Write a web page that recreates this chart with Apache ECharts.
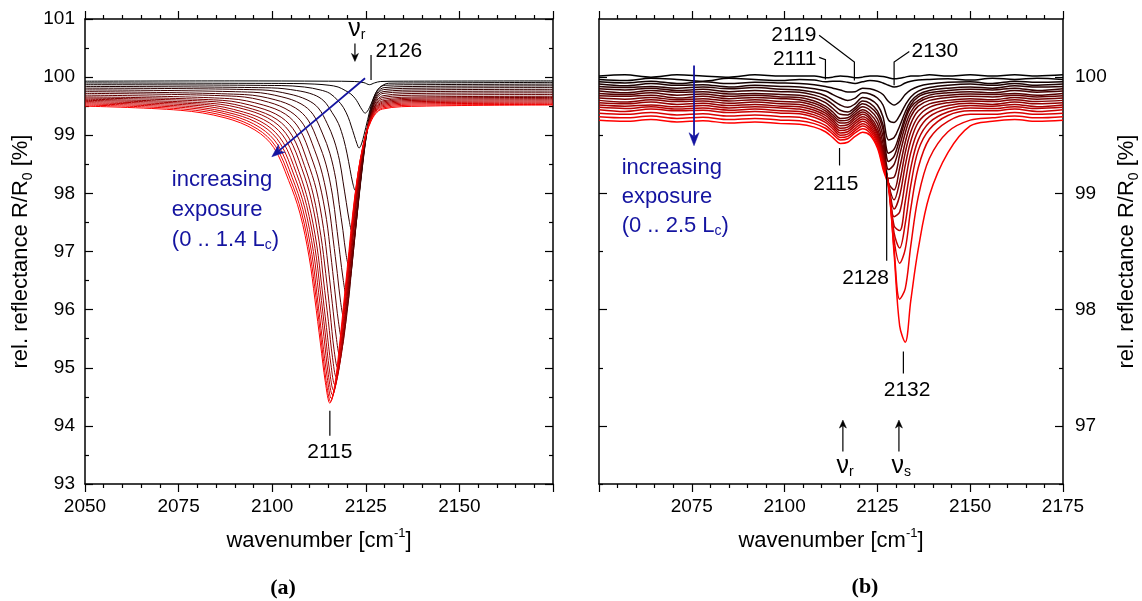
<!DOCTYPE html>
<html><head><meta charset="utf-8">
<script src="https://cdn.jsdelivr.net/npm/echarts@6/dist/echarts.min.js"></script>
<style>html,body{margin:0;padding:0;background:#fff}#c{width:1142px;height:601px}</style>
</head><body><div id="c"></div>
<script>
// ---------- data ----------
const xTicksA = [2050, 2075, 2100, 2125, 2150];
const xTicksB = [2075, 2100, 2125, 2150, 2175];
const yTicksA = [93, 94, 95, 96, 97, 98, 99, 100, 101];
const yTicksB = [97, 98, 99, 100];
const yMinorB = [96.5, 97.5, 98.5, 99.5];

// panel (a): spectra as [wavenumber, R/R0] pairs, from 0 to 1.4 Lc
const spectraA = [
 [[2050,99.93],[2090,99.935],[2115,99.93],[2122,99.925],[2124.5,99.905],[2126,99.87],[2127.3,99.9],[2129,99.925],[2135,99.93],[2175,99.935]],
 [[2050,99.90],[2105.6,99.89],[2111.4,99.88],[2115.2,99.86],[2117.6,99.83],[2119.5,99.77],[2121.0,99.71],[2122.2,99.63],[2122.9,99.56],[2123.6,99.48],[2124.2,99.42],[2124.8,99.38],[2125.4,99.41],[2126.0,99.48],[2126.9,99.61],[2127.8,99.74],[2128.7,99.82],[2129.8,99.87],[2131.1,99.895],[2140,99.90],[2175,99.91]],
 [[2050,99.87],[2102.4,99.855],[2108.6,99.83],[2112.8,99.78],[2115.4,99.72],[2117.5,99.60],[2119.0,99.48],[2120.3,99.31],[2121.1,99.16],[2121.9,99.00],[2122.6,98.86],[2123.2,98.78],[2123.85,98.85],[2124.5,99.00],[2125.5,99.27],[2126.5,99.53],[2127.5,99.71],[2128.7,99.82],[2130.2,99.86],[2140,99.87],[2175,99.88]],
 [[2050,99.84],[2099.8,99.815],[2106.5,99.77],[2111.0,99.70],[2113.8,99.59],[2116.0,99.39],[2117.7,99.20],[2119.1,98.93],[2120.0,98.68],[2120.8,98.41],[2121.5,98.18],[2122.2,98.05],[2122.9,98.16],[2123.6,98.41],[2124.7,98.86],[2125.8,99.29],[2126.9,99.57],[2128.25,99.75],[2129.9,99.82],[2140,99.84],[2175,99.85]],
 [[2050,99.81],[2097.3,99.78],[2104.5,99.71],[2109.3,99.61],[2112.3,99.47],[2114.7,99.20],[2116.5,98.92],[2118.0,98.56],[2118.9,98.21],[2119.8,97.84],[2120.6,97.52],[2121.3,97.35],[2122.1,97.50],[2122.9,97.84],[2124.1,98.46],[2125.3,99.05],[2126.5,99.44],[2127.9,99.69],[2129.7,99.785],[2140,99.81],[2175,99.82]],
 [[2050,99.78],[2094.9,99.74],[2102.6,99.66],[2107.7,99.54],[2110.9,99.36],[2113.5,99.02],[2115.4,98.69],[2117.0,98.24],[2117.9,97.81],[2118.9,97.36],[2119.7,96.96],[2120.5,96.75],[2121.3,96.93],[2122.2,97.36],[2123.5,98.11],[2124.8,98.84],[2126.1,99.33],[2127.65,99.63],[2129.6,99.75],[2140,99.78],[2175,99.79]],
 [[2050,99.75],[2092.6,99.70],[2100.8,99.61],[2106.2,99.47],[2109.6,99.26],[2112.3,98.88],[2114.4,98.49],[2116.1,97.97],[2117.1,97.48],[2118.1,96.95],[2119.0,96.50],[2119.8,96.25],[2120.7,96.46],[2121.6,96.95],[2123.0,97.83],[2124.4,98.67],[2125.8,99.23],[2127.5,99.58],[2129.6,99.72],[2140,99.75],[2175,99.76]],
 [[2050,99.72],[2090.4,99.67],[2099.0,99.57],[2104.8,99.41],[2108.4,99.18],[2111.3,98.75],[2113.4,98.33],[2115.2,97.75],[2116.3,97.20],[2117.4,96.62],[2118.3,96.12],[2119.2,95.85],[2120.2,96.08],[2121.1,96.62],[2122.6,97.59],[2124.1,98.52],[2125.6,99.14],[2127.3,99.53],[2129.6,99.68],[2140,99.72],[2175,99.73]],
 [[2050,99.69],[2088.6,99.63],[2097.6,99.52],[2103.6,99.36],[2107.35,99.10],[2110.35,98.64],[2112.6,98.18],[2114.5,97.55],[2115.6,96.97],[2116.7,96.34],[2117.7,95.79],[2118.6,95.50],[2119.6,95.75],[2120.6,96.34],[2122.2,97.39],[2123.7,98.39],[2125.3,99.06],[2127.2,99.48],[2129.5,99.65],[2140,99.69],[2175,99.70]],
 [[2050,99.66],[2086.8,99.60],[2096.2,99.48],[2102.4,99.31],[2106.3,99.04],[2109.4,98.55],[2111.8,98.06],[2113.7,97.40],[2114.9,96.77],[2116.05,96.11],[2117.1,95.53],[2118.0,95.22],[2119.1,95.49],[2120.1,96.11],[2121.8,97.22],[2123.4,98.28],[2125.05,98.99],[2127.0,99.44],[2129.5,99.62],[2140,99.66],[2175,99.67]],
 [[2050,99.64],[2085.1,99.575],[2094.8,99.45],[2101.3,99.27],[2105.35,98.99],[2108.6,98.48],[2111.0,97.97],[2113.0,97.27],[2114.3,96.62],[2115.5,95.93],[2116.5,95.32],[2117.5,95.00],[2118.6,95.28],[2119.7,95.93],[2121.4,97.09],[2123.1,98.20],[2124.8,98.94],[2126.85,99.41],[2129.4,99.59],[2140,99.64],[2175,99.65]],
 [[2050,99.62],[2083.5,99.55],[2093.6,99.43],[2100.3,99.24],[2104.5,98.95],[2107.9,98.43],[2110.4,97.90],[2112.5,97.18],[2113.7,96.51],[2115.0,95.80],[2116.1,95.18],[2117.1,94.84],[2118.2,95.13],[2119.4,95.80],[2121.15,96.99],[2122.9,98.14],[2124.7,98.90],[2126.8,99.38],[2129.4,99.57],[2140,99.62],[2175,99.63]],
 [[2050,99.60],[2081.9,99.53],[2092.3,99.40],[2099.3,99.21],[2103.65,98.92],[2107.1,98.38],[2109.7,97.84],[2111.9,97.11],[2113.2,96.42],[2114.5,95.69],[2115.7,95.05],[2116.7,94.71],[2117.9,95.00],[2119.1,95.69],[2120.9,96.91],[2122.7,98.08],[2124.5,98.87],[2126.7,99.36],[2129.4,99.55],[2140,99.60],[2175,99.61]],
 [[2050,99.58],[2080.4,99.51],[2091.2,99.38],[2098.4,99.18],[2102.9,98.88],[2106.5,98.34],[2109.2,97.79],[2111.45,97.05],[2112.8,96.35],[2114.15,95.60],[2115.3,94.96],[2116.4,94.61],[2117.6,94.91],[2118.8,95.60],[2120.7,96.85],[2122.5,98.04],[2124.4,98.83],[2126.6,99.33],[2129.4,99.53],[2140,99.58],[2175,99.59]],
 [[2050,99.56],[2078.9,99.49],[2090.1,99.36],[2097.5,99.16],[2102.15,98.86],[2105.9,98.30],[2108.7,97.75],[2111.0,97.00],[2112.4,96.29],[2113.8,95.54],[2115.0,94.88],[2116.1,94.53],[2117.3,94.83],[2118.6,95.54],[2120.5,96.79],[2122.4,98.00],[2124.3,98.81],[2126.55,99.31],[2129.4,99.51],[2140,99.56],[2175,99.57]],
 [[2050,99.54],[2077.8,99.47],[2089.2,99.34],[2096.8,99.13],[2101.55,98.83],[2105.35,98.27],[2108.2,97.72],[2110.6,96.95],[2112.0,96.24],[2113.4,95.48],[2114.7,94.83],[2115.8,94.47],[2117.1,94.77],[2118.3,95.48],[2120.3,96.75],[2122.2,97.97],[2124.1,98.78],[2126.5,99.29],[2129.4,99.49],[2140,99.54],[2175,99.55]],
 [[2050,99.52],[2076.4,99.45],[2088.2,99.32],[2096.0,99.11],[2100.9,98.81],[2104.8,98.25],[2107.8,97.68],[2110.2,96.92],[2111.7,96.21],[2113.15,95.44],[2114.4,94.78],[2115.6,94.42],[2116.9,94.73],[2118.2,95.44],[2120.2,96.72],[2122.1,97.94],[2124.1,98.76],[2126.5,99.27],[2129.5,99.47],[2140,99.52],[2175,99.53]],
 [[2050,99.50],[2075.4,99.43],[2087.4,99.30],[2095.4,99.09],[2100.4,98.79],[2104.4,98.22],[2107.4,97.66],[2109.9,96.89],[2111.4,96.18],[2112.9,95.41],[2114.2,94.75],[2115.4,94.39],[2116.7,94.70],[2118.0,95.41],[2120.0,96.69],[2122.0,97.92],[2124.0,98.73],[2126.4,99.24],[2129.4,99.45],[2140,99.50],[2175,99.52]]
];

// panel (b): common wavenumber grid and spectra, from 0 to 2.5 Lc
const waveB = [2050,2057,2064,2071,2078,2085,2092,2099,2104,2108,2111,2113,2115,2117,2119,2121,2123,2125,2126.5,2128,2129.5,2131,2132.5,2134,2136,2139,2144,2150,2156,2162,2168,2175];
const spectraB = [
 [100.01,100.02,100.00,100.02,100.01,100.00,100.02,100.01,100.01, 100.01,99.995,100.00,100.01,100.005,99.995,100.00,100.01, 100.01,100.005,99.995,99.985,99.99,100.00,100.01,100.01,100.02,100.01, 100.02,100.01,100.02,100.01,100.02],
 [99.98,99.97,99.99,99.98,99.965,99.99,99.98,99.97,99.98, 99.975,99.96,99.965,99.965,99.955,99.945,99.96,99.97, 99.965,99.95,99.93,99.915,99.925,99.95,99.965,99.975,99.98,99.985, 99.975,99.99,99.98,99.99,99.98],
 [99.96,99.95,99.965,99.945,99.96,99.945,99.955,99.95,99.945, 99.935,99.92,99.905,99.89,99.872,99.875,99.905,99.90, 99.88,99.85,99.79,99.76,99.79,99.85,99.89,99.92,99.94,99.955, 99.96,99.945,99.965,99.955,99.96],
 [99.94,99.925,99.945,99.93,99.935,99.915,99.93,99.92,99.915, 99.90,99.88,99.85,99.82,99.80,99.82,99.865,99.855, 99.82,99.76,99.63,99.61,99.67,99.76,99.83,99.88,99.91,99.93, 99.94,99.93,99.945,99.93,99.94],
 [99.92,99.91,99.92,99.905,99.915,99.90,99.91,99.895,99.89, 99.87,99.84,99.80,99.76,99.74,99.77,99.825,99.81, 99.76,99.66,99.46,99.48,99.58,99.70,99.79,99.85,99.885,99.905, 99.915,99.905,99.925,99.915,99.92],
 [99.90,99.89,99.905,99.885,99.895,99.875,99.885,99.875,99.87, 99.845,99.81,99.765,99.715,99.70,99.74,99.795,99.775, 99.71,99.59,99.345,99.38,99.51,99.66,99.76,99.83,99.865,99.885, 99.895,99.89,99.905,99.885,99.90],
 [99.88,99.865,99.885,99.87,99.875,99.855,99.86,99.85,99.845, 99.82,99.78,99.73,99.68,99.675,99.72,99.77,99.745, 99.68,99.55,99.275,99.32,99.47,99.63,99.74,99.80,99.845,99.865, 99.875,99.865,99.885,99.87,99.88],
 [99.86,99.85,99.865,99.845,99.855,99.835,99.845,99.83,99.825, 99.795,99.75,99.70,99.645,99.65,99.70,99.745,99.715, 99.64,99.49,99.205,99.25,99.41,99.58,99.70,99.78,99.825,99.845, 99.855,99.85,99.86,99.845,99.86],
 [99.84,99.835,99.845,99.82,99.835,99.815,99.825,99.815,99.805, 99.775,99.73,99.675,99.625,99.63,99.68,99.72,99.685, 99.60,99.43,99.13,99.14,99.33,99.52,99.66,99.75,99.80,99.825, 99.835,99.83,99.845,99.83,99.84],
 [99.82,99.81,99.825,99.805,99.815,99.795,99.805,99.79,99.785, 99.755,99.71,99.655,99.605,99.61,99.66,99.70,99.66, 99.56,99.38,99.09,99.03,99.22,99.44,99.60,99.71,99.77,99.80, 99.815,99.805,99.825,99.81,99.82],
 [99.80,99.785,99.805,99.79,99.795,99.775,99.785,99.77,99.765, 99.735,99.69,99.635,99.582,99.59,99.64,99.68,99.64, 99.53,99.35,99.08,98.945,99.10,99.35,99.53,99.66,99.74,99.78, 99.795,99.79,99.805,99.79,99.80],
 [99.78,99.77,99.785,99.765,99.775,99.755,99.765,99.75,99.745, 99.715,99.67,99.615,99.56,99.57,99.62,99.66,99.62, 99.51,99.33,99.08,98.865,98.98,99.24,99.45,99.61,99.70,99.755, 99.775,99.765,99.785,99.77,99.78],
 [99.76,99.75,99.76,99.745,99.755,99.735,99.745,99.735,99.725, 99.695,99.65,99.595,99.54,99.55,99.60,99.64,99.60, 99.49,99.31,99.08,98.80,98.84,99.10,99.35,99.54,99.66,99.73, 99.755,99.75,99.765,99.745,99.76],
 [99.74,99.73,99.745,99.725,99.735,99.715,99.725,99.71,99.705, 99.675,99.63,99.575,99.52,99.53,99.58,99.62,99.58, 99.47,99.29,99.08,98.72,98.68,98.93,99.22,99.46,99.61,99.70, 99.735,99.73,99.745,99.73,99.74],
 [99.72,99.705,99.725,99.71,99.715,99.695,99.705,99.69,99.685, 99.655,99.61,99.555,99.50,99.51,99.56,99.60,99.56, 99.45,99.27,99.08,98.66,98.53,98.74,99.07,99.37,99.55,99.67, 99.71,99.71,99.725,99.705,99.72],
 [99.69,99.68,99.695,99.675,99.685,99.665,99.675,99.66,99.655, 99.625,99.585,99.53,99.48,99.49,99.54,99.58,99.54, 99.43,99.25,99.07,98.60,98.40,98.52,98.87,99.22,99.47,99.62, 99.68,99.68,99.695,99.68,99.69],
 [99.66,99.65,99.665,99.645,99.655,99.635,99.645,99.63,99.625, 99.60,99.56,99.51,99.46,99.47,99.52,99.555,99.52, 99.41,99.23,99.06,98.52,98.09,98.18,98.55,98.97,99.30,99.53, 99.63,99.65,99.665,99.65,99.66],
 [99.63,99.62,99.635,99.615,99.625,99.605,99.615,99.60,99.595, 99.57,99.53,99.48,99.43,99.44,99.49,99.525,99.50, 99.39,99.21,99.05,98.48,97.86,97.72,98.08,98.52,98.98,99.35, 99.58,99.62,99.635,99.62,99.63]
];

// ---------- chart ----------
const FONT = '"Liberation Sans", Arial, sans-serif';
const BLUE = '#1414a0';
const chart = echarts.init(document.getElementById('c'), null, {renderer: 'canvas', width: 1142, height: 601});

function shade(i, n) {
  const r = Math.round(255 * Math.pow(i / (n - 1), 1.25));
  return 'rgb(' + r + ',0,0)';
}
const axisLine = {show: true, onZero: false, lineStyle: {color: '#000', width: 1.5}};
const tickStyle = {color: '#000', width: 1.2};
const nameStyle = {fontSize: 22, fontFamily: FONT, color: '#000', lineHeight: 28,
  rich: {sup: {fontSize: 13, fontFamily: FONT, color: '#000', verticalAlign: 'top'},
         sub: {fontSize: 14, fontFamily: FONT, color: '#000', verticalAlign: 'bottom'}}};
const labelStyle = {fontSize: 19, fontFamily: FONT, color: '#000'};

function xAxisDef(grid, pos, shown) {
  const a = {
    gridIndex: grid, type: 'value', position: pos, min: 2050, max: 2175, interval: 25,
    axisLine: axisLine, splitLine: {show: false},
    axisTick: {show: true, inside: false, length: 8, lineStyle: tickStyle},
    minorTick: {show: true, splitNumber: 5, length: 4, lineStyle: tickStyle},
    axisLabel: {show: false}
  };
  if (shown) {
    a.axisLabel = Object.assign({show: true, margin: 13, formatter: v => shown.includes(v) ? String(v) : ''}, labelStyle);
    a.name = 'wavenumber [cm{sup|-1}]';
    a.nameLocation = 'middle';
    a.nameGap = 43;
    a.nameTextStyle = nameStyle;
  }
  return a;
}
function yAxisA(pos, labels) {
  const a = {
    gridIndex: 0, type: 'value', position: pos, min: 93, max: 101, interval: 1,
    axisLine: axisLine, splitLine: {show: false},
    axisTick: {show: true, inside: true, length: 8, lineStyle: tickStyle},
    minorTick: {show: true, splitNumber: 2, length: 4, lineStyle: tickStyle},
    axisLabel: {show: false}
  };
  if (labels) {
    a.axisLabel = Object.assign({show: true, margin: 10}, labelStyle);
    a.name = 'rel. reflectance R/R{sub|0} [%]';
    a.nameLocation = 'middle';
    a.nameGap = 50;
    a.nameTextStyle = nameStyle;
  }
  return a;
}
function yAxisB(pos, labels, minor) {
  const a = {
    gridIndex: 1, type: 'value', position: pos, min: 96.5, max: 100.5, interval: 0.5,
    axisLine: minor ? {show: false, onZero: false} : axisLine, splitLine: {show: false},
    axisTick: {show: true, inside: true, length: minor ? 4 : 8, lineStyle: tickStyle,
               customValues: minor ? yMinorB : yTicksB},
    axisLabel: {show: false}
  };
  if (labels) {
    a.axisLabel = Object.assign({show: true, margin: 12, customValues: yTicksB,
      formatter: v => Number.isInteger(v) ? String(v) : ''}, labelStyle);
    a.name = 'rel. reflectance R/R{sub|0} [%]';
    a.nameLocation = 'middle';
    a.nameGap = 50;
    a.nameTextStyle = nameStyle;
  }
  return a;
}

const series = [];
spectraA.forEach((d, i) => series.push({
  type: 'line', xAxisIndex: 0, yAxisIndex: 0, data: d, smooth: 0.35, symbol: 'none',
  lineStyle: {width: 1, color: shade(i, spectraA.length)}, silent: true, z: 2 + i
}));
spectraB.forEach((vals, i) => series.push({
  type: 'line', xAxisIndex: 2, yAxisIndex: 2, data: waveB.map((x, k) => [x, vals[k]]),
  smooth: 0.35, symbol: 'none',
  lineStyle: {width: 1.5, color: shade(i, spectraB.length)}, silent: true, z: 2 + i
}));

chart.setOption({
  animation: false,
  backgroundColor: '#fff',
  grid: [
    {left: 85, top: 19, width: 468, height: 465},
    {left: 599, top: 19, width: 468, height: 465}
  ],
  xAxis: [xAxisDef(0, 'bottom', xTicksA), xAxisDef(0, 'top', null),
          xAxisDef(1, 'bottom', xTicksB), xAxisDef(1, 'top', null)],
  yAxis: [yAxisA('left', true), yAxisA('right', false),
          yAxisB('right', true, false), yAxisB('left', false, false),
          yAxisB('right', false, true), yAxisB('left', false, true)],
  series: series
});

// ---------- annotations (placed in data coordinates) ----------
function P(g, x, y) {
  return chart.convertToPixel(g === 0 ? {xAxisIndex: 0, yAxisIndex: 0} : {xAxisIndex: 2, yAxisIndex: 2}, [x, y]);
}
const G = [];
function seg(pts, color, w) {
  G.push({type: 'polyline', z: 200, shape: {points: pts}, style: {stroke: color, lineWidth: w, fill: null}});
}
function arrow(p1, p2, color, w, hl, hw) {
  const dx = p2[0] - p1[0], dy = p2[1] - p1[1], L = Math.hypot(dx, dy);
  const ux = dx / L, uy = dy / L;
  const bx = p2[0] - ux * hl, by = p2[1] - uy * hl;
  const nx = p2[0] - ux * hl * 0.7, ny = p2[1] - uy * hl * 0.7;
  seg([p1, [nx, ny]], color, w);
  G.push({type: 'polygon', z: 201, shape: {points: [p2, [bx - uy * hw, by + ux * hw], [nx, ny], [bx + uy * hw, by - ux * hw]]},
          style: {fill: color, stroke: color, lineWidth: 0.5}});
}
function text(p, s, align, color, size, rich) {
  G.push({type: 'text', z: 202, x: p[0], y: p[1], style: {
    text: s, fill: color, fontSize: size, fontFamily: FONT,
    align: align, verticalAlign: 'middle', textAlign: align, textVerticalAlign: 'middle', rich: rich || {}
  }});
}
const nuRich = {nu: {fontSize: 25, fontFamily: FONT, fill: '#000', color: '#000'},
                s: {fontSize: 14, fontFamily: FONT, fill: '#000', color: '#000', verticalAlign: 'bottom', padding: [10, 0, 0, 0]}};
const subBlue = {s: {fontSize: 14, fontFamily: FONT, fill: BLUE, color: BLUE, verticalAlign: 'bottom', padding: [10, 0, 0, 0]}};

// panel (a)
text(P(0, 2122.6, 100.82), '{nu|ν}{s|r}', 'center', '#000', 25, nuRich);
arrow(P(0, 2122.1, 100.58), P(0, 2122.1, 100.27), '#000', 1.2, 8, 3.5);
seg([P(0, 2126.4, 100.38), P(0, 2126.4, 99.95)], '#000', 1.2);
text(P(0, 2127.6, 100.45), '2126', 'left', '#000', 21);
arrow(P(0, 2124.8, 99.98), P(0, 2099.9, 98.63), BLUE, 1.8, 13, 5);
text(P(0, 2073.2, 98.23), 'increasing', 'left', BLUE, 22);
text(P(0, 2073.2, 97.71), 'exposure', 'left', BLUE, 22);
text(P(0, 2073.2, 97.20), '(0 .. 1.4 L{s|c})', 'left', BLUE, 22, subBlue);
seg([P(0, 2115.4, 94.26), P(0, 2115.4, 93.83)], '#000', 1.2);
text(P(0, 2115.4, 93.55), '2115', 'center', '#000', 21);

// panel (b)
text(P(1, 2108.6, 100.36), '2119', 'right', '#000', 21);
seg([P(1, 2109.3, 100.36), P(1, 2118.8, 100.13), P(1, 2118.8, 99.97)], '#000', 1.2);
text(P(1, 2108.6, 100.15), '2111', 'right', '#000', 21);
seg([P(1, 2109.3, 100.17), P(1, 2111.0, 100.15), P(1, 2111.0, 99.98)], '#000', 1.2);
text(P(1, 2134.2, 100.22), '2130', 'left', '#000', 21);
seg([P(1, 2133.6, 100.22), P(1, 2129.5, 100.13), P(1, 2129.5, 99.93)], '#000', 1.2);
arrow(P(1, 2075.6, 100.10), P(1, 2075.6, 99.41), BLUE, 1.8, 13, 5);
text(P(1, 2056.1, 99.22), 'increasing', 'left', BLUE, 22);
text(P(1, 2056.1, 98.97), 'exposure', 'left', BLUE, 22);
text(P(1, 2056.1, 98.72), '(0 .. 2.5 L{s|c})', 'left', BLUE, 22, subBlue);
seg([P(1, 2114.8, 99.39), P(1, 2114.8, 99.24)], '#000', 1.2);
text(P(1, 2113.8, 99.08), '2115', 'center', '#000', 21);
seg([P(1, 2127.5, 99.20), P(1, 2127.5, 98.42)], '#000', 1.2);
text(P(1, 2121.8, 98.27), '2128', 'center', '#000', 21);
seg([P(1, 2132.0, 97.64), P(1, 2132.0, 97.45)], '#000', 1.2);
text(P(1, 2133.0, 97.31), '2132', 'center', '#000', 21);
arrow(P(1, 2115.7, 96.78), P(1, 2115.7, 97.05), '#000', 1.2, 8, 3.5);
text(P(1, 2116.3, 96.65), '{nu|ν}{s|r}', 'center', '#000', 25, nuRich);
arrow(P(1, 2130.8, 96.78), P(1, 2130.8, 97.05), '#000', 1.2, 8, 3.5);
text(P(1, 2131.4, 96.65), '{nu|ν}{s|s}', 'center', '#000', 25, nuRich);

// sub-figure captions
G.push({type: 'text', z: 202, x: 283, y: 588, style: {text: '(a)', fill: '#000', fontSize: 22, fontWeight: 'bold',
  fontFamily: '"Liberation Serif", serif', align: 'center', verticalAlign: 'middle', textAlign: 'center', textVerticalAlign: 'middle'}});
G.push({type: 'text', z: 202, x: 865, y: 587, style: {text: '(b)', fill: '#000', fontSize: 22, fontWeight: 'bold',
  fontFamily: '"Liberation Serif", serif', align: 'center', verticalAlign: 'middle', textAlign: 'center', textVerticalAlign: 'middle'}});

chart.setOption({graphic: {elements: G}});
</script>
</body></html>
